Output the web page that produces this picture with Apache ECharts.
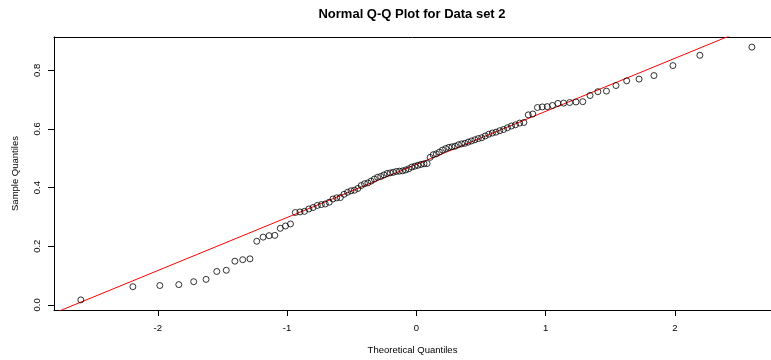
<!DOCTYPE html>
<html>
<head>
<meta charset="utf-8">
<script src="https://cdn.jsdelivr.net/npm/echarts@6/dist/echarts.min.js"></script>
<style>
  html, body { margin: 0; padding: 0; background: #fff; }
  #chart { width: 771px; height: 360px; }
</style>
</head>
<body>
<div id="chart"></div>
<script>
// theoretical normal quantiles (n = 106) and the sorted sample values
const theoretical = [
  -2.595, -2.1925, -1.9842, -1.8375, -1.7223, -1.6266, -1.5437, -1.4702, -1.4038, -1.3431,
  -1.287, -1.2345, -1.1854, -1.1389, -1.0947, -1.0526, -1.0124, -0.9737, -0.9364, -0.9004,
  -0.8654, -0.8315, -0.7986, -0.7664, -0.7351, -0.7044, -0.6745, -0.645, -0.6162, -0.5879,
  -0.56, -0.5325, -0.5055, -0.4788, -0.4525, -0.4264, -0.4007, -0.3752, -0.3499, -0.3248,
  -0.3001, -0.2754, -0.2509, -0.2265, -0.2024, -0.1783, -0.1543, -0.1305, -0.1066, -0.0829,
  -0.0592, -0.0355, -0.0118, 0.0118, 0.0355, 0.0592, 0.0829, 0.1066, 0.1305, 0.1543,
  0.1783, 0.2024, 0.2265, 0.2509, 0.2754, 0.3001, 0.3248, 0.3499, 0.3752, 0.4007,
  0.4264, 0.4525, 0.4788, 0.5055, 0.5325, 0.56, 0.5879, 0.6162, 0.645, 0.6745,
  0.7044, 0.7351, 0.7664, 0.7986, 0.8315, 0.8654, 0.9004, 0.9364, 0.9737, 1.0124,
  1.0526, 1.0947, 1.1389, 1.1854, 1.2345, 1.287, 1.3431, 1.4038, 1.4702, 1.5437,
  1.6266, 1.7223, 1.8375, 1.9842, 2.1925, 2.595
]
const sample = [
  0.017, 0.062, 0.066, 0.069, 0.079, 0.087, 0.114, 0.118, 0.149, 0.154,
  0.157, 0.217, 0.231, 0.236, 0.237, 0.261, 0.269, 0.276, 0.315, 0.317,
  0.319, 0.327, 0.332, 0.339, 0.342, 0.344, 0.35, 0.361, 0.365, 0.366,
  0.377, 0.384, 0.389, 0.391, 0.397, 0.407, 0.413, 0.416, 0.422, 0.429,
  0.435, 0.438, 0.443, 0.448, 0.45, 0.452, 0.455, 0.456, 0.457, 0.46,
  0.464, 0.47, 0.473, 0.476, 0.479, 0.481, 0.482, 0.503, 0.512, 0.515,
  0.521, 0.528, 0.533, 0.537, 0.539, 0.541, 0.546, 0.549, 0.551, 0.555,
  0.559, 0.563, 0.567, 0.57, 0.576, 0.582, 0.586, 0.589, 0.594, 0.598,
  0.604, 0.61, 0.614, 0.62, 0.622, 0.648, 0.651, 0.673, 0.675, 0.676,
  0.68, 0.687, 0.688, 0.69, 0.692, 0.693, 0.714, 0.727, 0.729, 0.748,
  0.764, 0.77, 0.782, 0.816, 0.851, 0.879
]
// qqline end points (clipped by the plot box)
const lineX = [-3, 3]
const lineY = [-0.064, 1.022]

const xTicks = [-2, -1, 0, 1, 2]
const yTicks = [0, 0.2, 0.4, 0.6, 0.8]

const points = theoretical.map((q, i) => [q, sample[i]])
const qqline = lineX.map((x, i) => [x, lineY[i]])

const font = 'Liberation Sans, Arial, Helvetica, sans-serif'
const chart = echarts.init(document.getElementById('chart'), null, { renderer: 'canvas' })

// the plot box runs past the right edge of the picture, so no right border
const xMin = -2.8026
const xMax = 2.7427

chart.setOption({
  animation: false,
  backgroundColor: '#fff',
  title: {
    text: 'Normal Q-Q Plot for Data set 2',
    left: 412,
    top: 8,
    padding: 0,
    textAlign: 'center',
    textStyle: { fontFamily: font, fontSize: 13, fontWeight: 'bold', color: '#000' },
  },
  grid: {
    left: 54,
    top: 37,
    right: 0,
    height: 275.5,
  },
  xAxis: [
    {
      type: 'value',
      min: xMin,
      max: xMax,
      name: 'Theoretical Quantiles',
      nameLocation: 'middle',
      nameGap: 35,
      nameTextStyle: { fontFamily: font, fontSize: 9.5, color: '#000' },
      axisLine: { onZero: false, lineStyle: { color: '#000', width: 1 } },
      axisTick: { customValues: xTicks, length: 6, lineStyle: { color: '#000' } },
      axisLabel: { customValues: xTicks, fontFamily: font, fontSize: 9.5, color: '#000', margin: 13 },
      splitLine: { show: false },
    },
    {
      type: 'value',
      position: 'top',
      min: xMin,
      max: xMax,
      axisLine: { onZero: false, lineStyle: { color: '#000', width: 1 } },
      axisTick: { show: false },
      axisLabel: { show: false },
      splitLine: { show: false },
    },
  ],
  yAxis: {
    type: 'value',
    min: -0.0175,
    max: 0.9135,
    name: 'Sample Quantiles',
    nameLocation: 'middle',
    nameRotate: 90,
    nameGap: 34,
    nameTextStyle: { fontFamily: font, fontSize: 9.5, color: '#000' },
    axisLine: { onZero: false, lineStyle: { color: '#000', width: 1 } },
    axisTick: { customValues: yTicks, length: 6, lineStyle: { color: '#000' } },
    axisLabel: {
      customValues: yTicks,
      rotate: 90,
      fontFamily: font,
      fontSize: 9.5,
      color: '#000',
      margin: 12,
      formatter: (v) => v.toFixed(1),
    },
    splitLine: { show: false },
  },
  series: [
    {
      type: 'line',
      data: qqline,
      symbol: 'none',
      clip: true,
      lineStyle: { color: '#ff0000', width: 1 },
      silent: true,
      z: 1,
    },
    {
      type: 'scatter',
      data: points,
      symbol: 'circle',
      symbolSize: 6,
      itemStyle: { color: 'transparent', borderColor: '#000', borderWidth: 1 },
      z: 2,
    },
  ],
})
</script>
</body>
</html>
